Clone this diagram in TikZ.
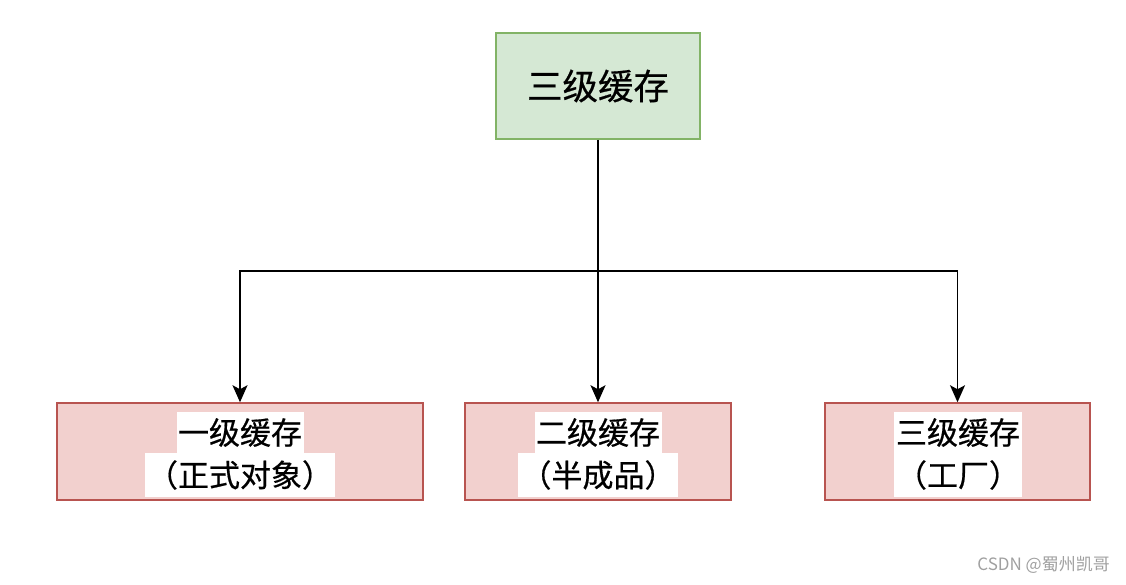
\documentclass[tikz,border=0pt]{standalone}
\usepackage{fontspec}
\setmainfont{Noto Sans CJK SC}
\newfontfamily\labelfont{Noto Sans CJK SC}[FakeBold=0.5]
\usetikzlibrary{arrows.meta}
\definecolor{gfill}{HTML}{D5E8D4}
\definecolor{gline}{HTML}{82B366}
\definecolor{rfill}{HTML}{F2D0CE}
\definecolor{rline}{HTML}{B85450}
\definecolor{wm}{HTML}{A0A0A0}
\begin{document}
\begin{tikzpicture}[x=1pt,y=-1pt,
  greenbox/.style={draw=gline,fill=gfill,line width=1.5pt,minimum width=204pt,minimum height=106pt,inner sep=0pt,font=\labelfont\fontsize{35.5}{40}\selectfont},
  redbox/.style={draw=rline,fill=rfill,line width=1.5pt,minimum height=97pt,inner sep=0pt},
  hl/.style={fill=white,inner sep=0pt,font=\labelfont\fontsize{31}{36}\selectfont,minimum height=41pt},
  conn/.style={line width=1.8pt,draw=black},
  arr/.style={conn,-{Stealth[length=17pt,width=15pt,inset=4pt]}}]
\useasboundingbox (0,0) rectangle (1126,584);
\node[greenbox] (top) at (598,86) {三级缓存};
\node[redbox,minimum width=366pt] (b1) at (240,451.5) {};
\node[redbox,minimum width=266pt] (b2) at (598,451.5) {};
\node[redbox,minimum width=265pt] (b3) at (957.5,451.5) {};
\node[hl,minimum width=127pt] (t1a) at (240,432.5) {一级缓存};
\node[hl,minimum width=190pt,minimum height=44pt] (t1b) at (240,475) {（正式对象）};
\node[hl,minimum width=127pt] (t2a) at (598,432.5) {二级缓存};
\node[hl,minimum width=160pt,minimum height=44pt] (t2b) at (598,475) {（半成品）};
\node[hl,minimum width=128pt] (t3a) at (958,432.5) {三级缓存};
\node[hl,minimum width=128pt,minimum height=44pt] (t3b) at (958,475) {（工厂）};
\coordinate (j) at (598,271);
\draw[conn] (top.south) -- (j);
\draw[arr] (j) -| (b1.north);
\draw[arr] (j) -- (b2.north);
\draw[arr] (j) -| (b3.north);
\node[text=wm,font=\fontsize{17}{20}\selectfont,anchor=east,inner sep=0pt] (wmk) at (1110,565) {CSDN @蜀州凯哥};
\end{tikzpicture}
\end{document}
